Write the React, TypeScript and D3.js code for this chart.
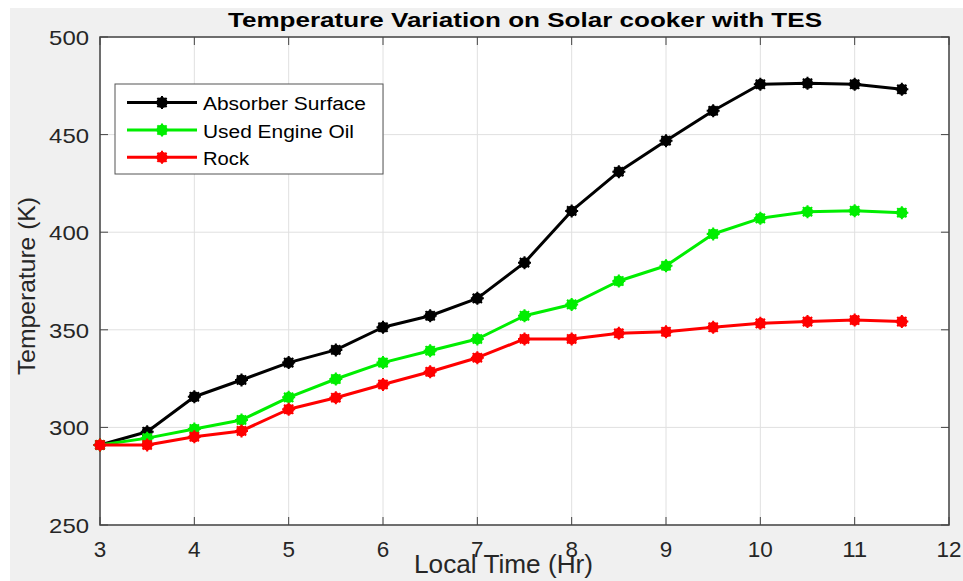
import React from "react";
import * as d3 from "d3";

const times = [3, 3.5, 4, 4.5, 5, 5.5, 6, 6.5, 7, 7.5, 8, 8.5, 9, 9.5, 10, 10.5, 11, 11.5];
const absorber = [291, 297.8, 315.7, 324.3, 333.2, 339.7, 351.3, 357.2, 366.1, 384.4, 410.9, 431, 446.9, 462.2, 475.8, 476.3, 475.8, 473.2];
const engineOil = [291, 294.5, 299.2, 303.8, 315.4, 324.8, 333.2, 339.3, 345.3, 357.2, 363, 375, 382.8, 399.1, 407.1, 410.5, 411, 410];
const rock = [291, 291, 295.2, 298.2, 309.3, 315.2, 322, 328.5, 335.7, 345.3, 345.3, 348.2, 349, 351.3, 353.3, 354.2, 355, 354.2];
const seriesNames = ["Absorber Surface", "Used Engine Oil", "Rock"];
const seriesColors = ["#000000", "#00ee00", "#ff0000"];
const xTicks = [3, 4, 5, 6, 7, 8, 9, 10, 11, 12];
const yTicks = [250, 300, 350, 400, 450, 500];
const title = "Temperature Variation on Solar cooker with TES";
const xLabel = "Local Time (Hr)";
const yLabel = "Temperature (K)";

const W = 963, H = 581;
const L = 100, R = 949, T = 37, B = 525;
const FONT = "Arial, 'Liberation Sans', Helvetica, sans-serif";
const TXT = "#262626";

function Marker({ x, y, color }: { x: number; y: number; color: string }) {
  const a = 6.5;
  const d = a * 0.707;
  return (
    <g>
      <circle cx={x} cy={y} r={5.5} fill={color} />
      <path
        d={`M${x - a},${y}L${x + a},${y}M${x},${y - a}L${x},${y + a}M${x - d},${y - d}L${x + d},${y + d}M${x - d},${y + d}L${x + d},${y - d}`}
        stroke={color}
        strokeWidth={2}
      />
    </g>
  );
}

export default function App() {
  const x = d3.scaleLinear().domain([3, 12]).range([L, R]);
  const y = d3.scaleLinear().domain([250, 500]).range([B, T]);
  const data = [absorber, engineOil, rock];
  const line = d3
    .line<[number, number]>()
    .x((d) => x(d[0]))
    .y((d) => y(d[1]));

  const legendRows = [102.5, 130, 157.3];
  const legendWidths = [163, 151, 46];

  return (
    <svg
      width={W}
      height={H}
      style={{ position: "absolute", left: 0, top: 0, display: "block" }}
      fontFamily={FONT}
    >
      <rect x={0} y={0} width={W} height={H} fill="#ffffff" />
      <rect x={10} y={8} width={W - 10} height={H - 8} fill="#f0f0f0" />
      <rect x={L} y={T} width={R - L} height={B - T} fill="#ffffff" />

      {/* grid */}
      {xTicks.map((t) => (
        <line key={"gx" + t} x1={x(t)} x2={x(t)} y1={T} y2={B} stroke="#e0e0e0" strokeWidth={1} />
      ))}
      {yTicks.map((t) => (
        <line key={"gy" + t} x1={L} x2={R} y1={y(t)} y2={y(t)} stroke="#e0e0e0" strokeWidth={1} />
      ))}

      {/* ticks */}
      {xTicks.map((t) => (
        <g key={"tx" + t}>
          <line x1={x(t)} x2={x(t)} y1={B} y2={B - 8} stroke="#444" strokeWidth={1} />
          <line x1={x(t)} x2={x(t)} y1={T} y2={T + 8} stroke="#444" strokeWidth={1} />
        </g>
      ))}
      {yTicks.map((t) => (
        <g key={"ty" + t}>
          <line x1={L} x2={L + 8} y1={y(t)} y2={y(t)} stroke="#444" strokeWidth={1} />
          <line x1={R} x2={R - 8} y1={y(t)} y2={y(t)} stroke="#444" strokeWidth={1} />
        </g>
      ))}
      <rect x={L} y={T} width={R - L} height={B - T} fill="none" stroke="#444" strokeWidth={1.5} />

      {/* series */}
      {data.map((vals, i) => {
        const pts: [number, number][] = times.map((t, j) => [t, vals[j]]);
        return (
          <g key={"s" + i}>
            <path d={line(pts) || ""} fill="none" stroke={seriesColors[i]} strokeWidth={3} strokeLinejoin="round" />
            {pts.map((p, j) => (
              <Marker key={j} x={x(p[0])} y={y(p[1])} color={seriesColors[i]} />
            ))}
          </g>
        );
      })}

      {/* tick labels */}
      {xTicks.map((t) => {
        const s = String(t);
        return (
          <text
            key={"lx" + t}
            x={x(t)}
            y={557}
            textAnchor="middle"
            fontSize={22}
            fill={TXT}
            textLength={s.length * 12.5}
            lengthAdjust="spacingAndGlyphs"
          >
            {s}
          </text>
        );
      })}
      {yTicks.map((t) => {
        const s = String(t);
        return (
          <text
            key={"ly" + t}
            x={89 - s.length * 13.3}
            y={y(t) + 8}
            fontSize={21}
            fill={TXT}
            textLength={s.length * 13.3}
            lengthAdjust="spacingAndGlyphs"
          >
            {s}
          </text>
        );
      })}

      {/* title */}
      <text
        x={228}
        y={27}
        fontSize={21}
        fontWeight="bold"
        fill="#000"
        textLength={594}
        lengthAdjust="spacingAndGlyphs"
      >
        {title}
      </text>

      {/* axis labels */}
      <text x={414} y={573} fontSize={25} fill={TXT} textLength={179} lengthAdjust="spacingAndGlyphs">
        {xLabel}
      </text>
      <text
        transform="translate(35,375) rotate(-90)"
        x={0}
        y={0}
        fontSize={24}
        fill={TXT}
        textLength={178}
        lengthAdjust="spacingAndGlyphs"
      >
        {yLabel}
      </text>

      {/* legend */}
      <rect x={115} y={84} width={268} height={90} fill="#ffffff" stroke="#555" strokeWidth={1} />
      {seriesNames.map((n, i) => (
        <g key={"lg" + i}>
          <line x1={127} x2={197} y1={legendRows[i]} y2={legendRows[i]} stroke={seriesColors[i]} strokeWidth={3} />
          <Marker x={162} y={legendRows[i]} color={seriesColors[i]} />
          <text
            x={203}
            y={legendRows[i] + 7.5}
            fontSize={18}
            fill="#000"
            textLength={legendWidths[i]}
            lengthAdjust="spacingAndGlyphs"
          >
            {n}
          </text>
        </g>
      ))}
    </svg>
  );
}
